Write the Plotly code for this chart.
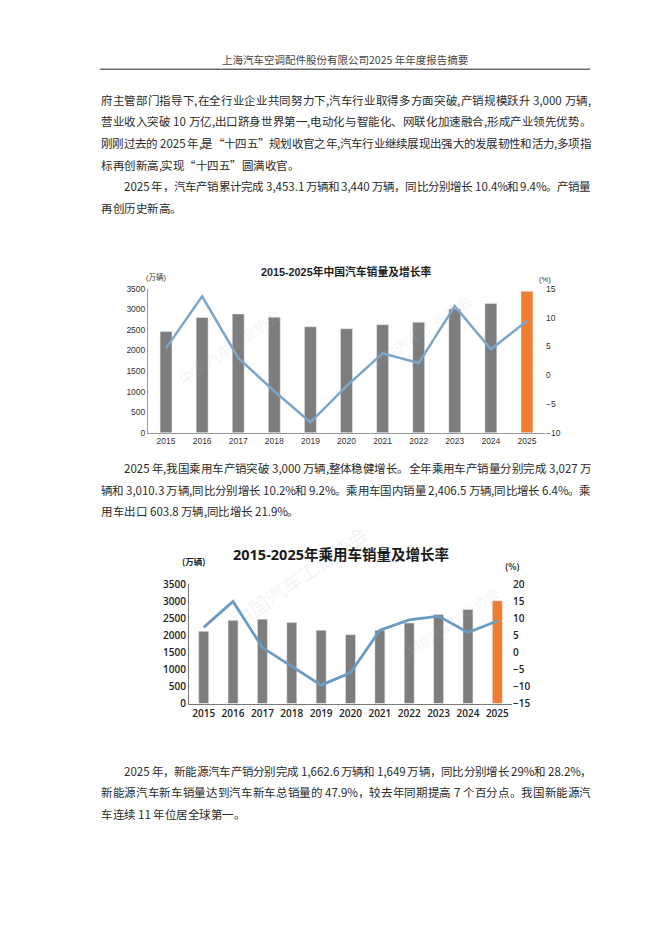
"""
Annual report page: China auto sales and passenger car sales 2015-2025
(two bar + growth-line charts embedded between report paragraphs)
"""
import plotly.graph_objects as go

W, H = 662, 936
OFF = 8  # default body margin of the html page shifts the figure

# ---- data -------------------------------------------------------------
years = ['2015', '2016', '2017', '2018', '2019', '2020',
         '2021', '2022', '2023', '2024', '2025']

# China auto sales (万辆) and YoY growth (%)
auto_sales = [2459.8, 2802.8, 2887.9, 2808.1, 2576.9, 2531.1,
              2627.5, 2686.4, 3009.4, 3143.6, 3440]
auto_growth = [4.7, 13.7, 3.0, -2.8, -8.2, -1.9, 3.8, 2.1, 12.0, 4.5, 9.4]

# passenger car sales (万辆) and YoY growth (%)
pc_sales = [2114.6, 2437.7, 2471.8, 2371.0, 2144.4, 2017.8,
            2148.2, 2356.3, 2606.3, 2756.3, 3010.3]
pc_growth = [7.3, 14.9, 1.4, -4.1, -9.6, -6.0, 6.5, 9.5, 10.6, 5.8, 9.2]

header = '上海汽车空调配件股份有限公司2025 年年度报告摘要'

# (indented, justified, text)
para1 = [
    (False, True, '府主管部门指导下,在全行业企业共同努力下,汽车行业取得多方面突破,产销规模跃升 3,000 万辆,'),
    (False, True, '营业收入突破 10 万亿,出口跻身世界第一,电动化与智能化、网联化加速融合,形成产业领先优势。'),
    (False, True, '刚刚过去的 2025 年,是“十四五”规划收官之年,汽车行业继续展现出强大的发展韧性和活力,多项指'),
    (False, False, '标再创新高,实现“十四五”圆满收官。'),
    (True, True, '2025 年，汽车产销累计完成 3,453.1 万辆和 3,440 万辆，同比分别增长 10.4%和 9.4%。产销量'),
    (False, False, '再创历史新高。'),
]
para2 = [
    (True, True, '2025 年,我国乘用车产销突破 3,000 万辆,整体稳健增长。全年乘用车产销量分别完成 3,027 万'),
    (False, True, '辆和 3,010.3 万辆,同比分别增长 10.2%和 9.2%。乘用车国内销量 2,406.5 万辆,同比增长 6.4%。乘'),
    (False, False, '用车出口 603.8 万辆,同比增长 21.9%。'),
]
para3 = [
    (True, True, '2025 年，新能源汽车产销分别完成 1,662.6 万辆和 1,649 万辆，同比分别增长 29%和 28.2%，'),
    (False, True, '新能源汽车新车销量达到汽车新车总销量的 47.9%，较去年同期提高 7 个百分点。我国新能源汽'),
    (False, False, '车连续 11 年位居全球第一。'),
]
para_tops = [94, 468, 775]
LINE_H = 22

GRAY = '#7d7d7d'
ORANGE = '#ed7d31'
BLUE1 = '#7ba6c9'
BLUE2 = '#6a9bc3'
CJK = 'Noto Sans CJK SC'
NARROW = 'Liberation Sans Narrow, Liberation Sans, Noto Sans CJK SC'
BODY_SIZE = 11.5
LEFT, RIGHT, INDENT = 100, 590, 123


def px(x):
    return (x - OFF) / W


def py(y):
    return 1 - (y - OFF) / H


# rough advance widths (em) of latin glyphs in Noto Sans CJK
LATIN_W = {',': 0.26, '.': 0.26, '%': 0.88, ' ': 0.224}


def glyph_w(ch):
    if ch.isdigit():
        return 0.553
    if ch in LATIN_W:
        return LATIN_W[ch]
    return 1.0  # CJK chars, full width punctuation and curly quotes


def tokens_of(text):
    """split a line into CJK chars, latin runs and spaces"""
    toks = []
    run = ''
    for ch in text:
        if ord(ch) < 128 and ch != ' ':
            run += ch
            continue
        if run:
            toks.append(run)
            run = ''
        toks.append(ch)
    if run:
        toks.append(run)
    return toks


def line_annotations(text, x0, y, justify, size):
    toks = tokens_of(text)
    widths = [sum(glyph_w(c) for c in t) * size for t in toks]
    gap = 0.0
    if justify and len(toks) > 1:
        gap = (RIGHT - x0 - sum(widths)) / (len(toks) - 1)
    out = []
    x = x0
    for t, w in zip(toks, widths):
        if t != ' ':
            out.append(dict(x=px(x), y=py(y), xref='paper', yref='paper',
                            text=t, showarrow=False, xanchor='left',
                            yanchor='middle', borderpad=0,
                            font=dict(family=CJK, size=size, color='#2b2b2b')))
        x += w + gap
    return out


fig = go.Figure()

# ---- chart 1: China auto sales ------------------------------------------
bar_colors1 = [GRAY] * (len(years) - 1) + [ORANGE]
fig.add_trace(go.Bar(x=years, y=auto_sales, marker_color=bar_colors1,
                     width=0.33, xaxis='x', yaxis='y', showlegend=False))
fig.add_trace(go.Scatter(x=years, y=auto_growth, mode='lines',
                         line=dict(color=BLUE1, width=2.5),
                         xaxis='x', yaxis='y2', showlegend=False))

# ---- chart 2: passenger cars --------------------------------------------
bar_colors2 = [GRAY] * (len(years) - 1) + [ORANGE]
fig.add_trace(go.Bar(x=years, y=pc_sales, marker_color=bar_colors2,
                     width=0.34, xaxis='x2', yaxis='y3', showlegend=False))
fig.add_trace(go.Scatter(x=years, y=pc_growth, mode='lines',
                         line=dict(color=BLUE2, width=2.8),
                         xaxis='x2', yaxis='y4', showlegend=False))

tick1 = dict(family=NARROW, size=8.5, color='#333333')
tick2 = dict(family='Open Sans, Noto Sans CJK SC', size=10, color='#222222', weight=600)

fig.update_layout(
    width=W, height=H,
    margin=dict(l=0, r=0, t=0, b=0),
    paper_bgcolor='white', plot_bgcolor='rgba(0,0,0,0)',
    xaxis=dict(domain=[px(148), px(545)], anchor='y', type='category',
               range=[-0.5, 10.5], showline=True, linecolor='#9a9a9a',
               linewidth=1, showgrid=False, ticks='', tickfont=tick1),
    yaxis=dict(domain=[py(432), py(286)], anchor='x', range=[0, 3500],
               dtick=500, showline=True, linecolor='#9a9a9a', linewidth=1,
               showgrid=False, zeroline=False, ticks='', tickfont=tick1),
    yaxis2=dict(overlaying='y', side='right', anchor='x', range=[-10, 15],
                dtick=5, showline=False, showgrid=False, zeroline=False,
                ticks='', tickfont=tick1),
    xaxis2=dict(domain=[px(189), px(512)], anchor='y3', type='category',
                range=[-0.5, 10.5], showline=True, linecolor='#7a7a7a',
                linewidth=1.2, showgrid=False, ticks='', tickfont=tick2),
    yaxis3=dict(domain=[py(707), py(585.7)], anchor='x2', range=[0, 3500],
                dtick=500, showline=True, linecolor='#7a7a7a', linewidth=1.2,
                showgrid=False, zeroline=False, ticks='', tickfont=tick2),
    yaxis4=dict(overlaying='y3', side='right', anchor='x2', range=[-15, 20],
                dtick=5, showline=False, showgrid=False, zeroline=False,
                ticks='', tickfont=tick2),
)

ann = []

# header and rule
ann.append(dict(x=px(345), y=py(53), xref='paper', yref='paper', text=header,
                showarrow=False, xanchor='center', yanchor='middle',
                font=dict(family=CJK, size=10.5, color='#444444')))
fig.add_shape(type='line', xref='paper', yref='paper',
              x0=px(LEFT), x1=px(RIGHT), y0=py(63), y1=py(63),
              line=dict(color='#222222', width=1))

# body paragraphs, justified like the original document
for top, para in zip(para_tops, [para1, para2, para3]):
    for i, (indent, justify, t) in enumerate(para):
        x0 = INDENT if indent else LEFT
        ann += line_annotations(t, x0, top + i * LINE_H, justify, BODY_SIZE)

# faint watermarks
for x, y, s in [(230, 345, 15), (420, 330, 15), (300, 640, 20), (505, 625, 14)]:
    ann.append(dict(x=px(x), y=py(y), xref='paper', yref='paper',
                    text='中国汽车工业协会', textangle=-35, showarrow=False,
                    font=dict(family=CJK, size=s, color='rgba(160,185,205,0.16)')))

# chart 1 texts
ann.append(dict(x=px(346), y=py(260), xref='paper', yref='paper',
                text='<b>2015-2025年中国汽车销量及增长率</b>', showarrow=False,
                font=dict(family=NARROW, size=10.8, color='#1e1e1e')))
ann.append(dict(x=px(144), y=py(267), xref='paper', yref='paper', text='(万辆)',
                showarrow=False, font=dict(family=NARROW, size=7.5, color='#333333')))
ann.append(dict(x=px(553), y=py(270), xref='paper', yref='paper', text='(%)',
                showarrow=False, font=dict(family=NARROW, size=7.5, color='#333333')))
ann.append(dict(x=years[-1], y=auto_sales[-1], xref='x', yref='y',
                text=f'{auto_sales[-1]:g}', showarrow=False, yanchor='bottom',
                yshift=2, font=dict(family=NARROW, size=8, color='#333333')))
ann.append(dict(x=years[-1], y=auto_growth[-1], xref='x', yref='y2',
                text=f'{auto_growth[-1]:g}', showarrow=False, yanchor='top',
                yshift=-6, font=dict(family=NARROW, size=8.5, color='#5a2a10')))

# chart 2 texts
ann.append(dict(x=px(341), y=py(556), xref='paper', yref='paper',
                text='<b>2015-2025年乘用车销量及增长率</b>', showarrow=False,
                font=dict(family='Open Sans, Noto Sans CJK SC', size=14.5, color='#1a1a1a')))
ann.append(dict(x=px(180), y=py(562), xref='paper', yref='paper', text='<b>(万辆)</b>',
                showarrow=False, font=dict(family=CJK, size=8.5, color='#222222')))
ann.append(dict(x=px(522), y=py(567), xref='paper', yref='paper', text='<b>(%)</b>',
                showarrow=False, font=dict(family=CJK, size=8.5, color='#222222')))
ann.append(dict(x=years[-1], y=pc_sales[-1], xref='x2', yref='y3',
                text=f'{pc_sales[-1]:g}', showarrow=False, yanchor='bottom',
                yshift=2, font=dict(family='Open Sans', size=10, color='#222222', weight=600)))
ann.append(dict(x=years[-1], y=pc_growth[-1], xref='x2', yref='y4',
                text=f'{pc_growth[-1]:g}', showarrow=False, yanchor='top',
                yshift=-10, font=dict(family='Open Sans', size=10, color='#222222', weight=600)))

fig.update_layout(annotations=ann)

fig.write_html("out.html")
